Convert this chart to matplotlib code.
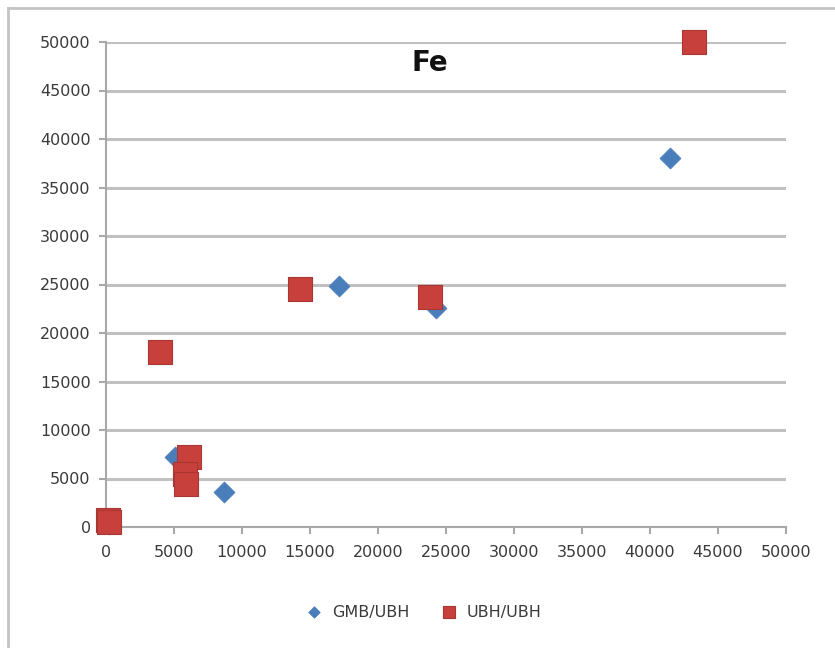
import matplotlib
matplotlib.use("Agg")
import matplotlib.pyplot as plt
from matplotlib.lines import Line2D

title = "Fe"
series_names = ["GMB/UBH", "UBH/UBH"]

gmb_x = [41500, 17100, 24300, 8700, 5100, 200, 5800]
gmb_y = [38000, 24800, 22600, 3600, 7200, 300, 5000]

ubh_x = [43200, 14300, 23800, 4000, 6100, 5800, 5900, 150, 250]
ubh_y = [50000, 24500, 23700, 18000, 7200, 5500, 4400, 700, 500]

xticks = list(range(0, 50001, 5000))
yticks = list(range(0, 50001, 5000))

blue = "#4a7ebb"
red = "#c8403c"
grid_c = "#c0c0c0"
text_c = "#3a3a3a"

fig = plt.figure(figsize=(8.35, 6.48), dpi=100)
ax = fig.add_axes([106/835, 1-527/648, 680/835, 485/648])

ax.scatter(gmb_x, gmb_y, marker="D", s=115, color=blue, edgecolor=blue,
           linewidth=0.5, zorder=3, label=series_names[0], clip_on=False)
ax.scatter(ubh_x, ubh_y, marker="s", s=280, color=red, edgecolor="#a83632",
           linewidth=0.8, zorder=4, label=series_names[1], clip_on=False)

ax.set_xlim(0, 50000)
ax.set_ylim(0, 50000)
ax.set_xticks(xticks)
ax.set_yticks(yticks)
ax.set_xticklabels([str(v) for v in xticks])
ax.set_yticklabels([str(v) for v in yticks])

ax.yaxis.grid(True, color=grid_c, linewidth=2.2)
ax.set_axisbelow(True)
for s in ["top", "right"]:
    ax.spines[s].set_visible(False)
for s in ["left", "bottom"]:
    ax.spines[s].set_color("#a8a8a8")
    ax.spines[s].set_linewidth(1.5)
ax.tick_params(axis="both", colors="#a8a8a8", labelcolor=text_c,
               labelsize=11.5, length=5, width=1.5, direction="out")
ax.tick_params(axis="x", pad=8)
ax.tick_params(axis="y", pad=6)

ax.text(0.476, 0.957, title, transform=ax.transAxes, ha="center", va="center",
        fontsize=20, fontweight="bold", color="#111111")

leg = fig.legend(loc="center", bbox_to_anchor=(420/835, 1-612/648), ncol=2,
                 frameon=False, fontsize=11.5, handletextpad=0.1,
                 columnspacing=1.5, markerscale=0.55)
for t in leg.get_texts():
    t.set_color(text_c)

fig.add_artist(Line2D([8/835, 8/835], [0, 1-8/648], transform=fig.transFigure,
                      color="#c4c4c4", linewidth=2))
fig.add_artist(Line2D([8/835, 1.01], [1-8/648, 1-8/648], transform=fig.transFigure,
                      color="#c4c4c4", linewidth=2))

fig.savefig("out.png", dpi=100)
